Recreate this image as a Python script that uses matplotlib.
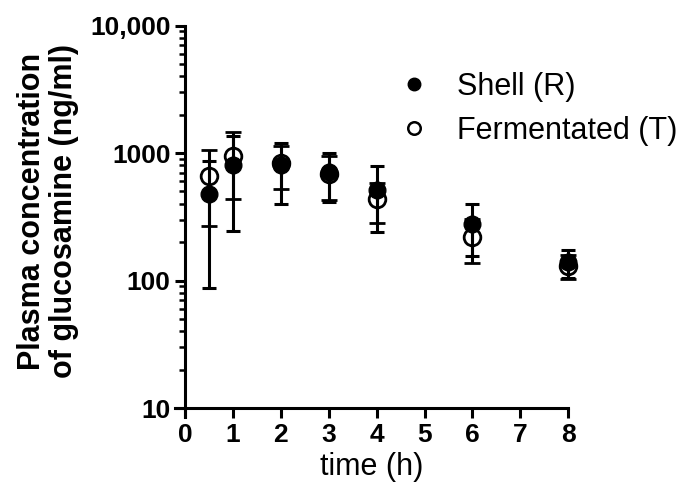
import numpy as np
import matplotlib
matplotlib.use('Agg')
import matplotlib.pyplot as plt
from matplotlib.lines import Line2D
from matplotlib.ticker import FixedLocator, FixedFormatter, NullFormatter

plt.rcParams['font.family'] = ['Liberation Sans', 'DejaVu Sans']

### data
time = [0.5, 1, 2, 3, 4, 6, 8]
shell_mean = [474, 805, 800, 706, 513, 277, 140]
shell_sd = [387, 560, 400, 290, 275, 121, 35]
ferm_mean = [664, 952, 830, 690, 433, 221, 130]
ferm_sd = [395, 517, 310, 260, 148, 85, 28]

ytick_vals = [10, 100, 1000, 10000]
ytick_labels = ['10', '100', '1000', '10,000']
xtick_vals = [0, 1, 2, 3, 4, 5, 6, 7, 8]

### plot
fig = plt.figure(figsize=(6.81, 5.0), dpi=100)
ax = fig.add_axes([0.2576, 0.166, 0.8345 - 0.2576, 0.949 - 0.166])

lw = 2.2
eb_o = ax.errorbar(time, ferm_mean, yerr=ferm_sd, fmt='o', color='black',
                   markerfacecolor='none', markeredgewidth=2.0, markersize=12,
                   elinewidth=lw, capsize=5.5, capthick=lw, zorder=3)
eb_f = ax.errorbar(time, shell_mean, yerr=shell_sd, fmt='o', color='black',
                   markersize=12, elinewidth=lw, capsize=5, capthick=lw, zorder=4)
for eb in (eb_o, eb_f):
    for art in eb.get_children():
        art.set_clip_on(False)

ax.set_yscale('log')
ax.set_ylim(8.5, 10000)
ax.set_xlim(-0.2, 8)
ax.spines['left'].set_position(('data', 0))
ax.spines['bottom'].set_position(('data', 10))
ax.spines['top'].set_visible(False)
ax.spines['right'].set_visible(False)
for s in ['left', 'bottom']:
    ax.spines[s].set_linewidth(lw)

ax.yaxis.set_major_locator(FixedLocator(ytick_vals))
ax.yaxis.set_major_formatter(FixedFormatter(ytick_labels))
minors = [m * d for d in [10, 100, 1000] for m in range(2, 10)]
ax.yaxis.set_minor_locator(FixedLocator(minors))
ax.yaxis.set_minor_formatter(NullFormatter())
ax.set_xticks(xtick_vals)

ax.tick_params(axis='both', which='major', width=lw, length=7, labelsize=19)
ax.tick_params(axis='y', which='minor', width=1.8, length=4)
for lab in ax.get_xticklabels() + ax.get_yticklabels():
    lab.set_fontweight('bold')

ax.set_xlabel('time (h)', fontsize=22, labelpad=4)
ax.set_ylabel('Plasma concentration\nof glucosamine (ng/ml)', fontsize=22,
              fontweight='bold', linespacing=1.1)
ax.yaxis.set_label_coords(-0.245, 0.525)

handles = [Line2D([], [], marker='o', linestyle='none', color='black', markersize=9),
           Line2D([], [], marker='o', linestyle='none', color='black',
                  markerfacecolor='white', markeredgewidth=1.8, markersize=9)]
fig.legend(handles, ['Shell (R)', 'Fermentated (T)'], loc='upper left',
           bbox_to_anchor=(0.586, 0.856), frameon=False, fontsize=22,
           handlelength=1.0, handletextpad=0.9, labelspacing=0.45,
           borderpad=0, borderaxespad=0)

plt.savefig('out.png', dpi=100)
